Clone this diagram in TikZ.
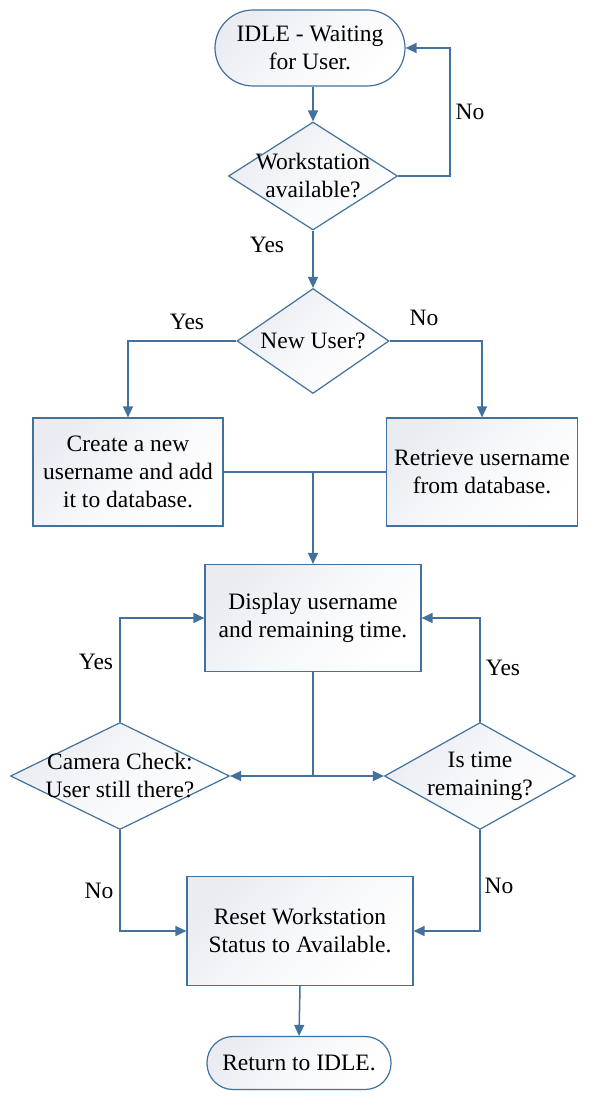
\documentclass[tikz,border=0pt]{standalone}
\usepackage{fontspec}
\setmainfont{Liberation Serif}
\usetikzlibrary{shapes.geometric,arrows.meta,calc}
\definecolor{ln}{RGB}{65,113,156}
\definecolor{sh}{RGB}{234,236,242}
\definecolor{shm}{RGB}{247,248,250}
\tikzset{
  base/.style={draw=ln, line width=1.2pt, top color=sh, bottom color=white, middle color=shm, shading angle=45,
    font=\fontsize{23.5}{28}\selectfont, align=center, inner sep=0pt},
  term/.style={base, rectangle, rounded corners=#1},
  box/.style={base, rectangle},
  dec/.style={base, diamond, aspect=1.5},
  conn/.style={draw=ln, line width=1.5pt},
  arr/.style={conn, -{Triangle[length=11pt,width=10pt]}},
  lbl/.style={font=\fontsize{23.5}{28}\selectfont, inner sep=0pt}
}
\begin{document}
\begin{tikzpicture}[x=1pt,y=-1pt]
\useasboundingbox (0,0) rectangle (600,1102);
\node[term=38pt, minimum width=190pt, minimum height=76pt] (idle) at (310,48) {IDLE - Waiting\\for User.};
\node[dec, minimum width=169pt, minimum height=108pt, label={[lbl,align=center]center:Workstation\\available?}] (d1) at (313,176) {};
\node[dec, minimum width=152pt, minimum height=105pt, label={[lbl]center:New User?}] (d2) at (313,341) {};
\node[box, minimum width=190pt, minimum height=108pt] (create) at (128,472) {Create a new\\username and add\\it to database.};
\node[box, minimum width=191pt, minimum height=108pt] (retr) at (482,472) {Retrieve username\\from database.};
\node[box, minimum width=216pt, minimum height=107pt] (disp) at (313,618) {Display username\\and remaining time.};
\node[dec, minimum width=219pt, minimum height=107pt, label={[lbl,align=center]center:Camera Check:\\User still there?}] (cam) at (120,776) {};
\node[dec, minimum width=191pt, minimum height=107pt, label={[lbl,align=center]center:Is time\\remaining?}] (time) at (480,776) {};
\node[box, minimum width=226pt, minimum height=109pt] (reset) at (300,931) {Reset Workstation\\Status to Available.};
\node[term=26pt, minimum width=184pt, minimum height=53pt] (ret) at (299,1063) {Return to IDLE.};

\draw[arr] (idle.south -| d1.north) -- (d1.north);
\draw[arr] (d1.east) -- ++(52,0) |- (idle.east);
\node[lbl] (l1) at (470,112) {No};
\draw[arr] (d1.south) -- (d2.north);
\node[lbl] (l2) at (267,245) {Yes};
\draw[arr] (d2.west) -| (create.north);
\node[lbl] (l3) at (187,322) {Yes};
\draw[arr] (d2.east) -| (retr.north);
\node[lbl] (l4) at (424,318) {No};
\draw[conn] (create.east) -- (retr.west);
\draw[arr] (disp.north |- create.east) -- (disp.north);
\coordinate (m2) at (disp.south |- cam.east);
\draw[conn] (disp.south) -- (m2);
\draw[arr] (m2) -- (cam.east);
\draw[arr] (m2) -- (time.west);
\draw[arr] (cam.north) |- (disp.west);
\node[lbl] (l5) at (96,662) {Yes};
\draw[arr] (time.north) |- (disp.east);
\node[lbl] (l6) at (503,668) {Yes};
\draw[arr] (cam.south) |- (reset.west);
\node[lbl] (l7) at (99,891) {No};
\draw[arr] (time.south) |- (reset.east);
\node[lbl] (l8) at (499,886) {No};
\draw[arr] (reset.south) -- (ret.north);
\end{tikzpicture}
\end{document}
